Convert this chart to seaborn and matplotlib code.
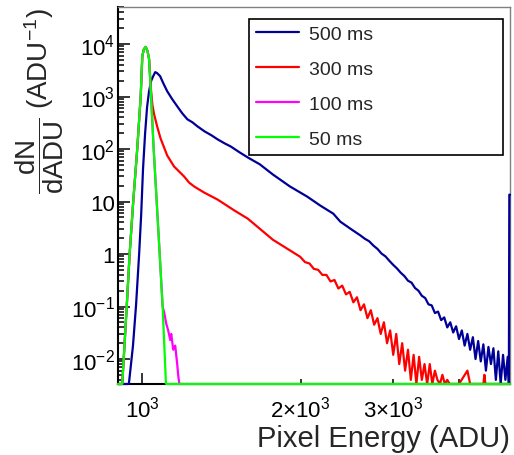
import numpy as np
import pandas as pd
import matplotlib
matplotlib.use("Agg")
import matplotlib.pyplot as plt
import seaborn as sns
from matplotlib.ticker import FixedLocator, FixedFormatter, NullFormatter

sns.set_style("white")
plt.rcParams["font.family"] = ["Liberation Sans", "DejaVu Sans"]
plt.rcParams["mathtext.fontset"] = "custom"
plt.rcParams["mathtext.rm"] = "Liberation Sans"
plt.rcParams["mathtext.it"] = "Liberation Sans:italic"
plt.rcParams["mathtext.bf"] = "Liberation Sans:bold"
plt.rcParams["mathtext.sf"] = "Liberation Sans"

# ---------------- data ----------------
series_labels = ["500 ms", "300 ms", "100 ms", "50 ms"]
series_colors = ["#000099", "#ff0000", "#ff00ff", "#00ff00"]

x_500 = [900, 940, 944, 961, 974, 987, 996, 1004, 1013, 1022, 1031, 1040, 1050, 1059,
         1068, 1082, 1097, 1116, 1141, 1166, 1192, 1219, 1246, 1274, 1314, 1355, 1391,
         1435, 1473, 1533, 1588, 1674, 1772, 1910, 2059, 2181, 2308, 2380, 2488,
         2600, 2650, 2700, 2750, 2800, 2850, 2900, 2950, 3000, 3050, 3100, 3150, 3200,
         3250, 3300, 3350, 3400, 3450, 3500, 3550, 3600, 3650, 3700, 3750, 3800, 3850,
         3900, 3950, 4000, 4050, 4100, 4150, 4200, 4250, 4300, 4350, 4400, 4450, 4500,
         4550, 4600, 4650, 4700, 4750, 4800, 4850, 4900, 4950, 4975, 4985, 5000]
y_500 = [0, 0, 0.0034, 0.018, 0.107, 0.97, 5.6, 40.7, 190, 624, 1263, 1961, 2444, 2915,
         2789, 2444, 1796, 1263, 888, 652, 479, 368, 323, 270, 217, 182, 153,
         128, 112, 86, 69, 51, 32.7, 19.3, 12.4, 8.35, 5.87, 4.13, 3.03,
         2.25, 1.95, 1.75, 1.45, 1.25, 1.02, 0.90, 0.74, 0.62, 0.53, 0.44, 0.38, 0.31,
         0.285, 0.225, 0.20, 0.16, 0.145, 0.11, 0.105, 0.075, 0.08, 0.055, 0.062, 0.04, 0.05,
         0.032, 0.042, 0.024, 0.035, 0.018, 0.03, 0.015, 0.026, 0.01, 0.022, 0.009, 0.019, 0.006,
         0.017, 0.008, 0.016, 0.004, 0.014, 0.0, 0.012, 0.004, 0.011, 0.0, 13.5, 13.5]

x_300 = [900, 914, 917, 935, 947, 962, 979, 994, 1001, 1008, 1016, 1024, 1031, 1040,
         1046, 1053, 1068, 1084, 1116, 1150, 1202, 1228, 1256, 1312, 1391, 1499, 1588,
         1772, 1997,
         2040, 2080, 2120, 2160, 2200, 2240, 2280, 2320, 2360, 2400, 2440, 2480, 2520,
         2560, 2600, 2640, 2680, 2720, 2760, 2800, 2840, 2880, 2920, 2960, 3000, 3040,
         3080, 3120, 3160, 3200, 3240, 3280, 3320, 3360, 3400, 3440, 3480, 3520, 3560,
         3600, 3640, 3680, 3720, 3760, 3800, 3840, 3900, 4000, 4150, 4200, 4450, 4470,
         4490, 5000]
y_300 = [0, 0, 0.0034, 0.1, 1, 10, 100, 1026, 5900, 8000, 8800, 7350, 5200, 1300,
         700, 479, 270, 160, 75.5, 46.5, 29.9, 23.0, 19.3, 14.8, 10.9, 6.7, 4.71,
         1.87, 0.884,
         0.70, 0.66, 0.52, 0.50, 0.40, 0.40, 0.30, 0.32, 0.22, 0.25, 0.17, 0.19, 0.12,
         0.15, 0.085, 0.11, 0.06, 0.085, 0.045, 0.06, 0.03, 0.05, 0.02, 0.035, 0.012, 0.03,
         0.008, 0.02, 0.006, 0.015, 0.004, 0.012, 0.0, 0.011, 0.004, 0.008, 0.0, 0.008, 0.0,
         0.006, 0.004, 0.0, 0.005, 0.0, 0.004, 0.0, 0.0, 0.0, 0.006, 0.0, 0.0, 0.005,
         0.0, 0.0]

x_100 = [900, 914, 917, 935, 947, 962, 979, 994, 1001, 1008, 1016, 1024, 1031, 1040,
         1052, 1066, 1080, 1094, 1102, 1111, 1121, 1131, 1136, 1146, 1156, 1166, 1171,
         1177, 5000]
y_100 = [0, 0, 0.0034, 0.1, 1, 10, 100, 1026, 5900, 8000, 8800, 7350, 5200, 1026,
         100, 10, 1, 0.1, 0.075, 0.048, 0.035, 0.023, 0.03, 0.015, 0.018, 0.008, 0.005,
         0, 0]

x_50 = [900, 914, 917, 935, 947, 962, 979, 994, 1001, 1008, 1016, 1024, 1031, 1040,
        1052, 1066, 1080, 1094, 1110, 1113, 5000]
y_50 = [0, 0, 0.0034, 0.1, 1, 10, 100, 1026, 5900, 8000, 8800, 7350, 5200, 1026,
        100, 10, 1, 0.1, 0.0034, 0, 0]

x_tick_vals = [1000]
x_tick_labels = ["10$^{3}$"]
x_minor_vals = [2000, 3000, 4000]
x_minor_labels = ["2\u00d710$^{3}$", "3\u00d710$^{3}$", ""]
y_tick_vals = [1e-2, 1e-1, 1, 10, 1e2, 1e3, 1e4]
y_tick_labels = ["10$^{-2}$", "10$^{-1}$", "1", "10", "10$^{2}$", "10$^{3}$", "10$^{4}$"]

XLIM = (900, 5000)
YLIM = (0.00334, 50700)

# ---------------- figure ----------------
fig = plt.figure(figsize=(5.14, 4.56), dpi=100)
ax = fig.add_axes([118 / 514, 71 / 456, 392 / 514, 377 / 456])
ax.set_xscale("log")
ax.set_yscale("log")

all_x = [x_500, x_300, x_100, x_50]
all_y = [y_500, y_300, y_100, y_50]
for lab, col, xs, ys in zip(series_labels, series_colors, all_x, all_y):
    df = pd.DataFrame({"x": xs, "y": np.clip(np.array(ys, dtype=float), YLIM[0], None)})
    sns.lineplot(data=df, x="x", y="y", ax=ax, color=col, lw=1.6, label=lab,
                 estimator=None, sort=False, clip_on=False, zorder=3)

ax.set_xlim(*XLIM)
ax.set_ylim(*YLIM)

# ticks
ax.xaxis.set_major_locator(FixedLocator(x_tick_vals))
ax.xaxis.set_major_formatter(FixedFormatter(x_tick_labels))
ax.xaxis.set_minor_locator(FixedLocator(x_minor_vals))
ax.xaxis.set_minor_formatter(FixedFormatter(x_minor_labels))
ax.yaxis.set_major_locator(FixedLocator(y_tick_vals))
ax.yaxis.set_major_formatter(FixedFormatter(y_tick_labels))
y_minor = [m * 10.0 ** e for e in range(-3, 5) for m in range(2, 10)]
ax.yaxis.set_minor_locator(FixedLocator(y_minor))
ax.yaxis.set_minor_formatter(NullFormatter())

ax.tick_params(axis="both", which="both", direction="in", top=False, right=False,
               left=True, bottom=True, width=1.1, colors="black", labelsize=16)
ax.tick_params(axis="y", which="major", length=8.6, pad=2)
ax.tick_params(axis="y", which="minor", length=4.3)
ax.tick_params(axis="x", which="major", length=8, pad=8)
ax.tick_params(axis="x", which="minor", length=3.6, pad=8)

for s in ["left", "bottom"]:
    ax.spines[s].set_color("black")
    ax.spines[s].set_linewidth(1.5)
for s in ["top", "right"]:
    ax.spines[s].set_color("#808080")
    ax.spines[s].set_linewidth(1.0)

ax.set_xlabel("Pixel Energy (ADU)", fontsize=21, loc="right")
ax.xaxis.set_label_coords(1.0, -0.105)
ax.set_ylabel(r"$\dfrac{\mathrm{dN}}{\mathrm{dADU}}$ (ADU$^{\mathrm{-1}}$)", fontsize=20, loc="top")
ax.yaxis.set_label_coords(-0.133, 1.0)

handles, labs = ax.get_legend_handles_labels()
leg = ax.legend(handles, labs, loc="upper left",
                bbox_to_anchor=(0.335, 0.602, 0.647, 0.367), mode="expand",
                borderaxespad=0, fontsize=14, frameon=True, fancybox=False,
                framealpha=1, edgecolor="black", handlelength=2.2,
                handletextpad=0.5, labelspacing=0.89, borderpad=0.36)
leg.get_frame().set_linewidth(1.2)
for h in leg.get_lines():
    h.set_linewidth(1.6)

fig.savefig("out.png", dpi=100)
